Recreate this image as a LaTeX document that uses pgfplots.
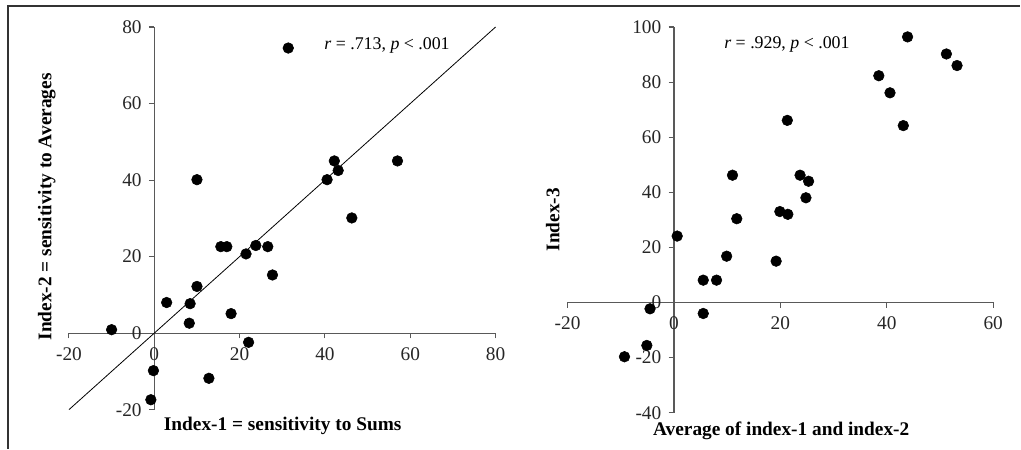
\documentclass[border=0pt]{standalone}
\usepackage{pgfplots}
\pgfplotsset{compat=1.18}
\usepackage{fontspec}
\setmainfont{Liberation Serif}
\begin{document}
\begin{tikzpicture}
\path (0pt,0pt) rectangle (765.75pt,336.75pt);
\draw[line width=1.2pt, black!80] (6pt,0pt) -- (6pt,332.25pt) -- (765.75pt,332.25pt);
\pgfplotsset{
  myax/.style={
    scale only axis, clip=false,
    axis lines=middle, axis line style={-, gray!70!black, line width=0.8pt},
    tick align=outside, major tick length=4pt,
    tick style={gray!70!black, line width=0.8pt},
    hide obscured x ticks=false, hide obscured y ticks=false,
    ticklabel style={font=\fontsize{14.5}{16}\selectfont, text=black!85},
    xticklabel style={yshift=-3pt},
    yticklabel style={xshift=-2pt},
    label style={font=\bfseries\fontsize{14.5}{16}\selectfont},
  },
  dots/.style={only marks, mark=*, mark size=4pt, mark options={fill=black, draw=black}},
}
% Left panel
\begin{axis}[myax, anchor=south west, at={(51.75pt,29.25pt)}, width=320.25pt, height=287.25pt,
  xmin=-20, xmax=80, ymin=-20, ymax=80,
  xtick={-20,0,20,40,60,80}, xticklabels={-20,0,20,40,60,80},
  ytick={-20,0,20,40,60,80}, yticklabels={-20,0,20,40,60,80},
  xlabel={Index-1 = sensitivity to Sums},
  ylabel={Index-2 = sensitivity to Averages},
  xlabel style={at={(axis description cs:0.501,-0.042)}, anchor=center},
  ylabel style={at={(axis description cs:-0.052,0.53)}, anchor=center, rotate=90},
]
\addplot[black, line width=0.6pt] coordinates {(-20,-20) (80,80)};
\addplot[dots] coordinates {
(31.4,74.5) (10.0,40.1) (42.2,45.0) (43.1,42.5) (40.5,40.1) (57.0,45.0)
(46.3,30.1) (15.6,22.6) (17.0,22.6) (21.5,20.7) (23.8,22.9) (26.6,22.6)
(27.7,15.2) (10.0,12.2) (2.9,8.0) (8.4,7.7) (8.2,2.6) (18.0,5.1)
(-10.0,0.9) (22.1,-2.4) (-0.2,-9.8) (12.8,-11.8) (-0.8,-17.4)
};
\node[anchor=west, inner sep=0pt, font=\fontsize{13.4}{15}\selectfont] at (axis cs:39.8,75.3) {\textit{r} = .713, \textit{p} < .001};
\end{axis}
% Right panel
\begin{axis}[myax, anchor=south west, at={(426pt,27pt)}, width=319.5pt, height=289.5pt,
  xmin=-20, xmax=60, ymin=-40, ymax=100,
  xtick={-20,0,20,40,60}, xticklabels={-20,0,20,40,60},
  ytick={-40,-20,0,20,40,60,80,100}, yticklabels={-40,-20,0,20,40,60,80,100},
  xlabel={Average of index-1 and index-2},
  ylabel={Index-3},
  xlabel style={at={(axis description cs:0.502,-0.046)}, anchor=center},
  ylabel style={at={(axis description cs:-0.035,0.5)}, anchor=center, rotate=90},
]
\addplot[dots] coordinates {
(43.9,96.4) (51.2,90.2) (53.2,86.0) (38.5,82.3) (40.6,76.1) (43.1,64.2)
(21.3,66.1) (11.0,46.2) (23.7,46.2) (25.3,44.0) (24.8,38.0) (19.9,33.0)
(21.4,32.0) (11.8,30.4) (0.6,24.1) (9.9,16.8) (19.2,15.0) (5.5,8.1)
(8.0,8.1) (5.5,-4.0) (-4.5,-2.3) (-5.1,-15.6) (-9.3,-19.7)
};
\node[anchor=west, inner sep=0pt, font=\fontsize{13.4}{15}\selectfont] at (axis cs:9.4,93.6) {\textit{r} = .929, \textit{p} < .001};
\end{axis}
\end{tikzpicture}
\end{document}
